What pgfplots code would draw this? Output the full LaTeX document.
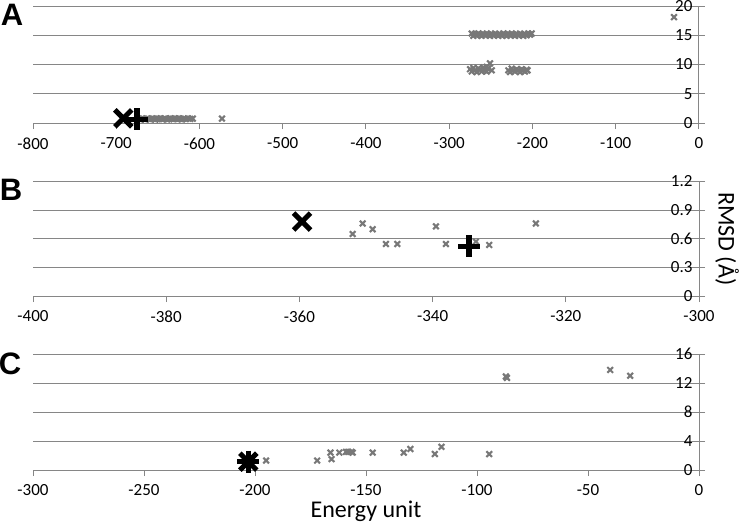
\documentclass[border=0pt]{standalone}
\usepackage{fontspec}
\setmainfont{Carlito}
\newfontfamily\arialfont{Liberation Sans}
\usepackage{pgfplots}
\pgfplotsset{compat=1.18}
\definecolor{gridgray}{RGB}{134,134,134}
\definecolor{markgray}{RGB}{120,120,120}
\pgfplotsset{
 panel/.style={
  scale only axis, width=666pt,
  axis x line=bottom, axis y line=right,
  axis line style={gridgray, line width=1pt, -},
  ymajorgrids, grid style={gridgray, line width=1pt},
  tick align=outside, major tick length=6pt,
  tick style={gridgray, line width=1pt},
  /pgf/number format/assume math mode=true,
  ticklabel style={font=\fontsize{17}{20}\selectfont, text=black},
  yticklabel style={anchor=east, xshift=-9pt},
  xticklabel style={yshift=-5pt},
  clip=false,
 },
 grayx/.style={only marks, mark=x, mark size=4pt, color=markgray, mark options={line width=2.1pt}},
 bigx/.style={only marks, mark=x, mark size=12pt, color=black, mark options={line width=5pt}},
 bigplus/.style={only marks, mark=+, mark size=11pt, color=black, mark options={line width=5.5pt}},
}
\begin{document}
\begin{tikzpicture}
\path[use as bounding box] (0,0) rectangle (740pt,-525pt);
% Panel A
\begin{axis}[panel, at={(33pt,-123pt)}, anchor=south west, height=117pt,
  xmin=-800, xmax=0, ymin=0, ymax=20,
  xtick={-800,-700,...,0}, ytick={0,5,10,15,20}]
\addplot[grayx] coordinates {
(-673,0.7)(-671,0.6)(-669,0.8)(-667,0.7)(-665,0.6)(-663,0.75)(-661,0.7)(-659,0.65)(-657,0.8)(-655,0.7)(-653,0.6)(-651,0.75)(-649,0.7)(-647,0.8)(-645,0.65)(-643,0.7)(-641,0.75)(-639,0.6)(-637,0.7)(-635,0.8)(-633,0.7)(-631,0.65)(-629,0.75)(-627,0.7)(-625,0.8)(-623,0.7)(-621,0.6)(-619,0.75)(-617,0.7)(-614,0.8)(-611,0.7)(-608,0.75)(-573,0.75)
(-273,15.3)(-271,14.9)(-269,15.2)(-267,15.0)(-265,15.3)(-263,15.1)(-261,14.9)(-259,15.2)(-257,15.0)(-255,15.3)(-253,15.1)(-251,14.9)(-249,15.2)(-247,15.0)(-245,15.3)(-243,15.1)(-241,14.9)(-239,15.2)(-237,15.0)(-235,15.3)(-233,15.1)(-231,14.9)(-229,15.2)(-227,15.0)(-225,15.3)(-223,15.1)(-221,14.9)(-219,15.2)(-217,15.0)(-215,15.3)(-213,15.1)(-211,14.9)(-209,15.2)(-207,15.0)(-205,15.3)(-203,15.1)(-201,15.3)
(-275,9.2)(-273,8.8)(-271,9.4)(-269,9.0)(-267,8.7)(-265,9.3)(-263,9.1)(-261,8.8)(-259,9.5)(-257,9.0)(-255,8.8)(-253,9.3)(-251,10.2)(-249,9.0)(-255,9.6)
(-229,9.0)(-227,8.7)(-225,9.3)(-223,9.0)(-221,8.8)(-219,9.2)(-217,9.0)(-215,8.7)(-213,9.2)(-211,9.0)(-209,8.8)(-207,9.1)(-206,9.0)
(-30,18.1)};
\addplot[bigx] coordinates {(-691.5,0.8)};
\addplot[bigplus] coordinates {(-675,0.6)};
\end{axis}
% Panel B
\begin{axis}[panel, at={(33pt,-296pt)}, anchor=south west, height=114.5pt,
  xmin=-400, xmax=-300, ymin=0, ymax=1.2,
  xtick={-400,-380,...,-300}, ytick={0,0.3,0.6,0.9,1.2},
  yticklabels={0,0.3,0.6,0.9,1.2}]
\addplot[grayx] coordinates {
(-352,0.65)(-350.5,0.76)(-349,0.70)(-347,0.545)(-345.3,0.545)(-339.5,0.73)(-338,0.545)(-333.5,0.57)(-331.5,0.535)(-324.5,0.76)};
\addplot[bigx] coordinates {(-359.6,0.78)};
\addplot[bigplus] coordinates {(-334.5,0.52)};
\node[xshift=28pt, rotate=-90, font=\fontsize{24}{26}\selectfont] at (rel axis cs:1,0.5) {RMSD (Å)};
\end{axis}
% Panel C
\begin{axis}[panel, at={(33pt,-470pt)}, anchor=south west, height=116pt,
  xmin=-300, xmax=0, ymin=0, ymax=16,
  xtick={-300,-250,...,0}, ytick={0,4,8,12,16},
  xlabel={Energy unit}, xlabel style={font=\fontsize{24}{26}\selectfont, yshift=2pt}]
\addplot[grayx] coordinates {
(-195,1.3)(-172,1.3)(-166,2.4)(-165.5,1.5)(-162,2.4)(-159,2.5)(-158,2.5)(-156.5,2.5)(-156,2.4)(-147,2.4)(-133,2.4)(-130,2.9)(-119,2.2)(-116,3.2)(-94.5,2.2)(-87,12.9)(-86.5,12.7)(-40,13.8)(-31,13.0)};
\addplot[bigx] coordinates {(-203,1.15)};
\addplot[bigplus] coordinates {(-203,1.15)};
\end{axis}
\node[font=\arialfont\bfseries\fontsize{31}{33}\selectfont] at (12pt,-15pt) {A};
\node[font=\arialfont\bfseries\fontsize{31}{33}\selectfont] at (11pt,-190pt) {B};
\node[font=\arialfont\bfseries\fontsize{31}{33}\selectfont] at (10pt,-364pt) {C};
\end{tikzpicture}
\end{document}
